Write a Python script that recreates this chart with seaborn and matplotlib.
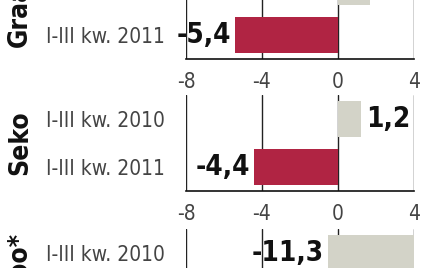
import matplotlib
matplotlib.use("Agg")
import matplotlib.pyplot as plt
import seaborn as sns
import pandas as pd
import numpy as np

companies = ["Graal", "Seko", "Wilbo*"]
periods = ["I-III kw. 2010", "I-III kw. 2011"]
values_2010 = [1.7, 1.2, -11.3]
values_2011 = [-5.4, -4.4, np.nan]
xlims = [(-8, 4), (-8, 4), (-30, 0)]
xticks = [[-8, -4, 0, 4], [-8, -4, 0, 4], [-30, -20, -10, 0]]

bar_colors = {"I-III kw. 2010": "#D3D3C8", "I-III kw. 2011": "#B02443"}

sns.set_theme(style="white")
plt.rcParams["axes.unicode_minus"] = False
plt.rcParams["font.family"] = ["DejaVu Sans"]

W, H = 439, 268
fig = plt.figure(figsize=(W / 100, H / 100), dpi=100)

left_px, right_px = 186, 414
panel_h = 96
panel_tops = [-37, 95, 229]

for i, comp in enumerate(companies):
    top = panel_tops[i]
    ax = fig.add_axes([left_px / W, 1 - (top + panel_h) / H,
                       (right_px - left_px) / W, panel_h / H])
    df = pd.DataFrame({"period": periods,
                       "value": [values_2010[i], values_2011[i]]})
    sns.barplot(data=df, x="value", y="period", hue="period",
                palette=bar_colors, order=periods, orient="h",
                width=0.75, dodge=False, legend=False, saturation=1,
                linewidth=0, ax=ax, zorder=3)
    ax.set_xlim(*xlims[i])
    ax.set_ylim(1.5, -0.5)
    ax.set_xticks(xticks[i])
    ax.set_xticklabels([str(t) for t in xticks[i]],
                       fontfamily="DejaVu Sans", fontstretch="condensed",
                       fontweight="normal", fontsize=15, color="#444444")
    ax.set_yticks([0, 1])
    ax.set_yticklabels(periods, fontfamily="DejaVu Sans", fontstretch="condensed",
                       fontsize=15, color="#444444")
    ax.tick_params(axis="x", length=0, pad=9)
    ax.tick_params(axis="y", length=0, pad=15)
    ax.set_xlabel("")
    ax.set_ylabel("")
    ax.grid(axis="x", color="#222222", lw=1.0, zorder=1)
    ax.grid(axis="y", visible=False)
    for s in ["left", "right", "top"]:
        ax.spines[s].set_visible(False)
    ax.spines["bottom"].set_color("#111111")
    ax.spines["bottom"].set_linewidth(1.2)
    ax.set_facecolor("none")

    for j, v in enumerate([values_2010[i], values_2011[i]]):
        if np.isnan(v):
            continue
        txt = f"{v:.1f}".replace(".", ",")
        if v >= 0:
            ax.annotate(txt, xy=(v, j), xytext=(4, 0), textcoords="offset points",
                        ha="left", va="center", fontsize=20, fontweight="bold",
                        fontfamily="DejaVu Sans", fontstretch="condensed",
                        color="#111111", annotation_clip=False, zorder=5)
        else:
            ax.annotate(txt, xy=(v, j), xytext=(-3, 0), textcoords="offset points",
                        ha="right", va="center", fontsize=20, fontweight="bold",
                        fontfamily="DejaVu Sans", fontstretch="condensed",
                        color="#111111", annotation_clip=False, zorder=5)

    fig.text(20 / W, 1 - (top + panel_h / 2) / H, comp, rotation=90,
             ha="center", va="center", fontsize=19, fontweight="bold",
             fontfamily="DejaVu Sans", fontstretch="condensed", color="#111111")

fig.savefig("out.png", dpi=100)
